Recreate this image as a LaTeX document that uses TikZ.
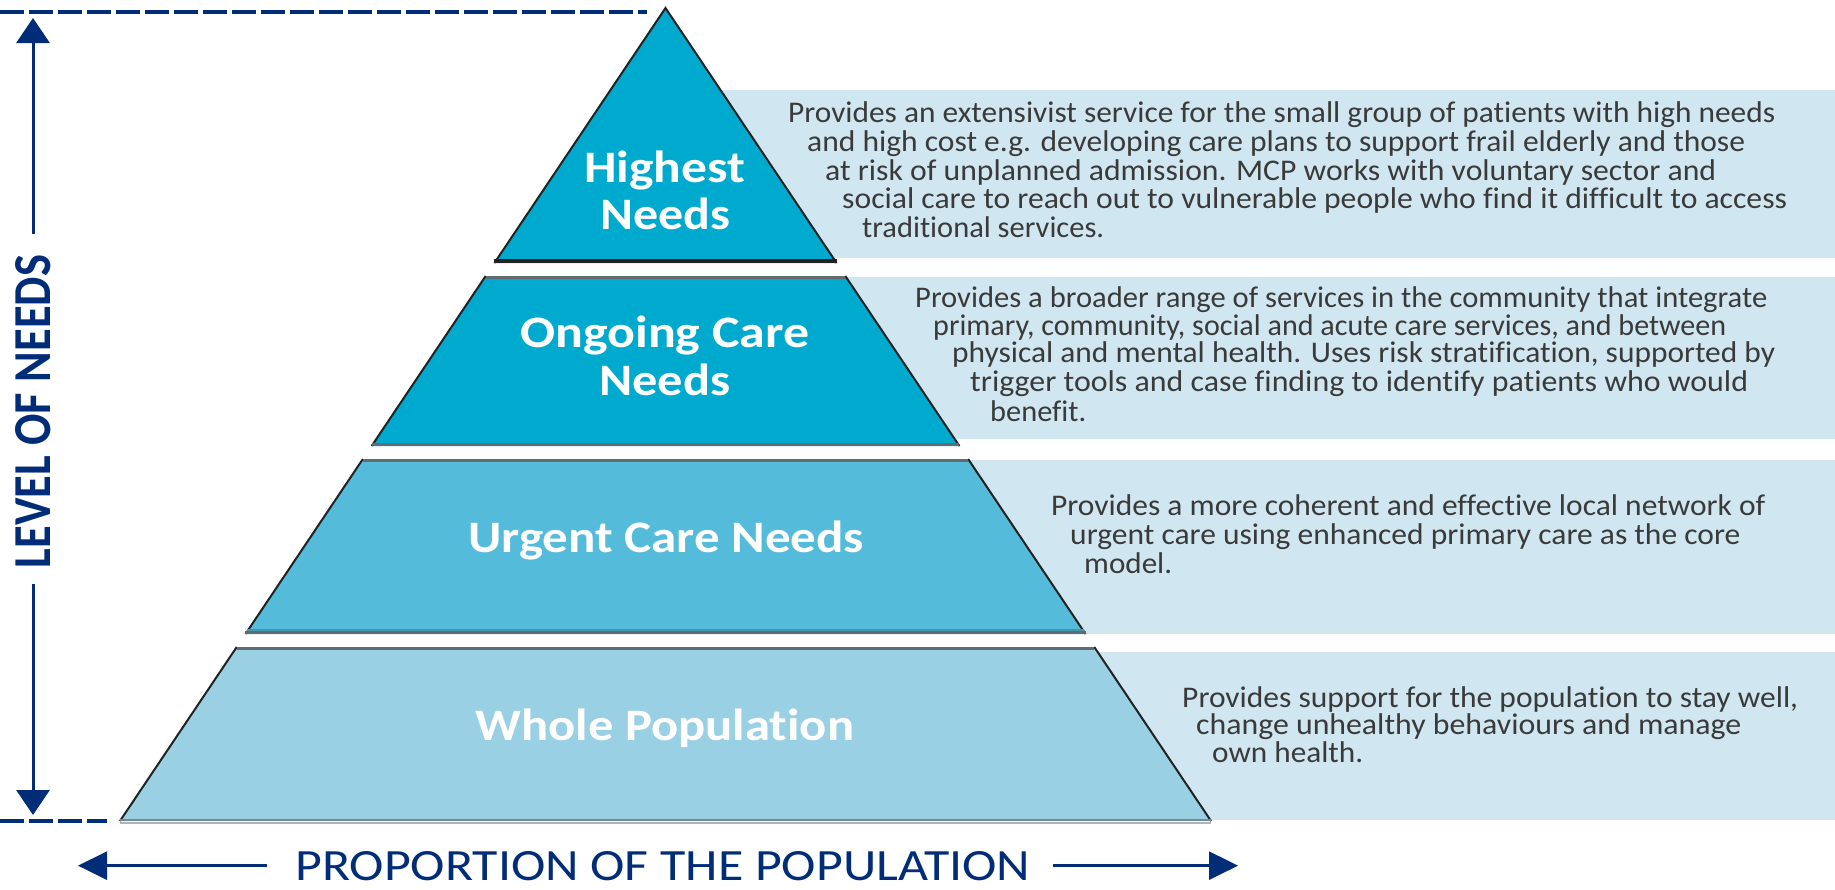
\documentclass[tikz,border=0pt]{standalone}
\usepackage{fontspec}
\setmainfont{Carlito}[Ligatures={NoCommon}]
\usetikzlibrary{arrows.meta}
\definecolor{navy}{RGB}{0,44,120}
\definecolor{tierA}{RGB}{0,169,206}
\definecolor{tierC}{RGB}{84,187,218}
\definecolor{tierD}{RGB}{154,208,228}
\definecolor{bandcol}{RGB}{208,230,240}
\definecolor{desctext}{RGB}{58,58,58}
\definecolor{edgegray}{RGB}{96,108,112}
\definecolor{edgedark}{RGB}{34,34,34}
\newcommand{\pyrL}[1]{665.5-0.671*(#1-8)}
\newcommand{\pyrR}[1]{665.5+0.671*(#1-8)}
\newcommand{\fitw}[2]{\resizebox{#1pt}{\height}{#2}}
\begin{document}
\begin{tikzpicture}[x=1pt,y=-1pt,
  desc/.style={anchor=base west, inner sep=0pt, text=desctext, font=\fontsize{30}{30}\selectfont},
  lab/.style={anchor=base west, inner sep=0pt, text=white, font=\fontsize{45}{45}\selectfont\bfseries},
  sideedge/.style={draw=edgedark, line width=2pt},
  topedge/.style={draw=edgegray, line width=3pt},
  axisline/.style={draw=navy, line width=3pt},
  vhead/.style={-{Triangle[length=25pt,width=33pt]}},
  hhead/.style={-{Triangle[length=29pt,width=28pt]}},
  dashline/.style={draw=navy, line width=3.5pt, dash pattern=on 24pt off 5pt}]
\fill[white] (0,0) rectangle (1835,889);
\useasboundingbox (0,0) rectangle (1835,889);

% description bands
\fill[bandcol] (665,90) rectangle (1835,258);
\fill[bandcol] (665,277) rectangle (1835,439);
\fill[bandcol] (665,460) rectangle (1835,634);
\fill[bandcol] (665,652) rectangle (1835,820);

% tier 1
\fill[tierA] (665.5,8) -- ({\pyrR{263}},263) -- ({\pyrL{263}},263) -- cycle;
\draw[sideedge] ({\pyrL{263}},263) -- (665.5,8) -- ({\pyrR{263}},263);
\draw[draw=edgedark, line width=4pt] ({\pyrL{263}},261) -- ({\pyrR{263}},261);
% tier 2
\fill[tierA] ({\pyrL{276}},276) -- ({\pyrR{276}},276) -- ({\pyrR{446}},446) -- ({\pyrL{446}},446) -- cycle;
\draw[sideedge] ({\pyrL{276}},276) -- ({\pyrL{446}},446);
\draw[sideedge] ({\pyrR{276}},276) -- ({\pyrR{446}},446);
\draw[topedge] ({\pyrL{276}},277.5) -- ({\pyrR{276}},277.5);
\draw[topedge] ({\pyrL{446}},444.5) -- ({\pyrR{446}},444.5);
% tier 3
\fill[tierC] ({\pyrL{459}},459) -- ({\pyrR{459}},459) -- ({\pyrR{634}},634) -- ({\pyrL{634}},634) -- cycle;
\draw[sideedge] ({\pyrL{459}},459) -- ({\pyrL{634}},634);
\draw[sideedge] ({\pyrR{459}},459) -- ({\pyrR{634}},634);
\draw[topedge] ({\pyrL{459}},460.5) -- ({\pyrR{459}},460.5);
\draw[draw=tierC!80!black, line width=2pt] ({\pyrL{631}},630) -- ({\pyrR{631}},630);
\draw[topedge] ({\pyrL{634}},632.5) -- ({\pyrR{634}},632.5);
% tier 4
\fill[tierD] ({\pyrL{647}},647) -- ({\pyrR{647}},647) -- ({\pyrR{821}},821) -- ({\pyrL{821}},821) -- cycle;
\draw[sideedge] ({\pyrL{647}},647) -- ({\pyrL{821}},821);
\draw[sideedge] ({\pyrR{647}},647) -- ({\pyrR{821}},821);
\draw[topedge] ({\pyrL{647}},648.5) -- ({\pyrR{647}},648.5);
\draw[draw=edgegray!70!tierD, line width=2.5pt] ({\pyrL{821}},820) -- ({\pyrR{821}},820);
\draw[draw=black!30, line width=2pt] ({\pyrL{821}},822.5) -- ({\pyrR{821}},822.5);

% tier labels
\node[lab] (t1a) at (584,182) {\fitw{161}{Highest}};
\node[lab] (t1b) at (600,229) {\fitw{130}{Needs}};
\node[lab] (t2a) at (520,347) {\fitw{289}{Ongoing Care}};
\node[lab] (t2b) at (599,395) {\fitw{131}{Needs}};
\node[lab] (t3a) at (468,552) {\fitw{396}{Urgent Care Needs}};
\node[lab] (t4a) at (475,740) {\fitw{379}{Whole Population}};

% descriptions
\node[desc] (d1a) at (788,122) {\fitw{987}{Provides an extensivist service for the small group of patients with high needs}};
\node[desc] (d1b) at (807,151) {\fitw{938}{and high cost e.g. developing care plans to support frail elderly and those}};
\node[desc] (d1c) at (825,180) {\fitw{891}{at risk of unplanned admission. MCP works with voluntary sector and}};
\node[desc] (d1d) at (842,208) {\fitw{945}{social care to reach out to vulnerable people who find it difficult to access}};
\node[desc] (d1e) at (862,237) {\fitw{242}{traditional services.}};

\node[desc] (d2a) at (915,307) {\fitw{852}{Provides a broader range of services in the community that integrate}};
\node[desc] (d2b) at (933,335) {\fitw{793}{primary, community, social and acute care services, and between}};
\node[desc] (d2c) at (952,362) {\fitw{823}{physical and mental health. Uses risk stratification, supported by}};
\node[desc] (d2d) at (970,391) {\fitw{778}{trigger tools and case finding to identify patients who would}};
\node[desc] (d2e) at (990,421) {\fitw{96}{benefit.}};

\node[desc] (d3a) at (1051,515) {\fitw{714}{Provides a more coherent and effective local network of}};
\node[desc] (d3b) at (1070,544) {\fitw{670}{urgent care using enhanced primary care as the core}};
\node[desc] (d3c) at (1084,573) {\fitw{88}{model.}};

\node[desc] (d4a) at (1182,707) {\fitw{616}{Provides support for the population to stay well,}};
\node[desc] (d4b) at (1196,734) {\fitw{545}{change unhealthy behaviours and manage}};
\node[desc] (d4c) at (1212,762) {\fitw{151}{own health.}};

% dashed guide lines
\coordinate (dtopL) at (0,12);
\coordinate (dtopR) at (647,12);
\coordinate (dbotL) at (0,821);
\coordinate (dbotR) at (107,821);
\draw[dashline] (dtopL) -- (dtopR);
\draw[dashline] (dbotL) -- (dbotR);

% vertical axis
\node[rotate=90, inner sep=0pt, text=navy, font=\fontsize{55}{55}\selectfont\bfseries] (lvl) at (33,411.5) {\resizebox{313pt}{35pt}{LEVEL OF NEEDS}};
\coordinate (vtop) at (33,18);
\coordinate (vbot) at (33,815);
\draw[axisline, vhead, shorten <=21pt] (lvl.east) -- (vtop);
\draw[axisline, vhead, shorten <=16pt] (lvl.west) -- (vbot);

% horizontal axis
\node[anchor=base west, inner sep=0pt, text=navy, font=\fontsize{50}{50}\selectfont] (prop) at (295,880) {\resizebox{735pt}{29pt}{PROPORTION OF THE POPULATION}};
\coordinate (hl) at (78,866);
\coordinate (hr) at (1238,866);
\draw[axisline, hhead, shorten <=28pt] (prop.west) -- (prop.west -| hl);
\draw[axisline, hhead, shorten <=23pt] (prop.east) -- (prop.east -| hr);
\end{tikzpicture}
\end{document}
